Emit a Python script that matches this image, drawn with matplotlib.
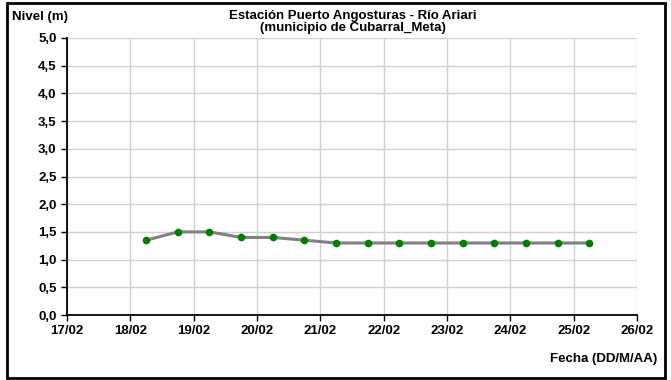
import matplotlib.pyplot as plt
from matplotlib.patches import Rectangle

plt.rcParams['font.family'] = ['Liberation Sans', 'DejaVu Sans']
plt.rcParams['font.weight'] = 'bold'

# dia de febrero (fraccion = hora de lectura)
dias = [18.25, 18.75, 19.25, 19.75, 20.25, 20.75, 21.25, 21.75,
        22.25, 22.75, 23.25, 23.75, 24.25, 24.75, 25.25]
nivel = [1.35, 1.5, 1.5, 1.4, 1.4, 1.35, 1.3, 1.3,
         1.3, 1.3, 1.3, 1.3, 1.3, 1.3, 1.3]
ticks_x = [17, 18, 19, 20, 21, 22, 23, 24, 25, 26]
etiquetas_x = ['%d/02' % d for d in ticks_x]
ticks_y = [0, 0.5, 1, 1.5, 2, 2.5, 3, 3.5, 4, 4.5, 5]

fig = plt.figure(figsize=(6.71, 3.80), dpi=100)
ax = fig.add_axes([67 / 671, 1 - 315 / 380, 570 / 671, 277 / 380])

ax.plot(dias, nivel, color='#808080', linewidth=2.2, zorder=2)
ax.plot(dias, nivel, 'o', color='#008000', markersize=4.5, zorder=3)

ax.set_xlim(17, 26)
ax.set_ylim(0, 5)
ax.set_xticks(ticks_x)
ax.set_xticklabels(etiquetas_x)
ax.set_yticks(ticks_y)
ax.set_yticklabels([('%.1f' % v).replace('.', ',') for v in ticks_y])
ax.grid(True, color='#d0d0d0', linewidth=1)
ax.set_axisbelow(True)

for s in ['top', 'right']:
    ax.spines[s].set_visible(False)
for s in ['left', 'bottom']:
    ax.spines[s].set_linewidth(1.3)
ax.tick_params(labelsize=9.5, length=4.5, width=1, pad=3)

fig.text(353 / 671, 1 - 16 / 380, 'Estación Puerto Angosturas - Río Ariari',
         ha='center', va='center', fontsize=9.5, fontweight='bold')
fig.text(353 / 671, 1 - 28 / 380, '(municipio de Cubarral_Meta)',
         ha='center', va='center', fontsize=9.5, fontweight='bold')
fig.text(12 / 671, 1 - 17 / 380, 'Nivel (m)', ha='left', va='center',
         fontsize=9.5, fontweight='bold')
fig.text(657 / 671, 1 - 359 / 380, 'Fecha (DD/M/AA)', ha='right', va='center',
         fontsize=9.5, fontweight='bold')

fig.patches.append(Rectangle((7 / 671, 2 / 380), 658 / 671, 375 / 380,
                             transform=fig.transFigure, fill=False,
                             edgecolor='black', linewidth=2))

fig.savefig('out.png', dpi=100)
